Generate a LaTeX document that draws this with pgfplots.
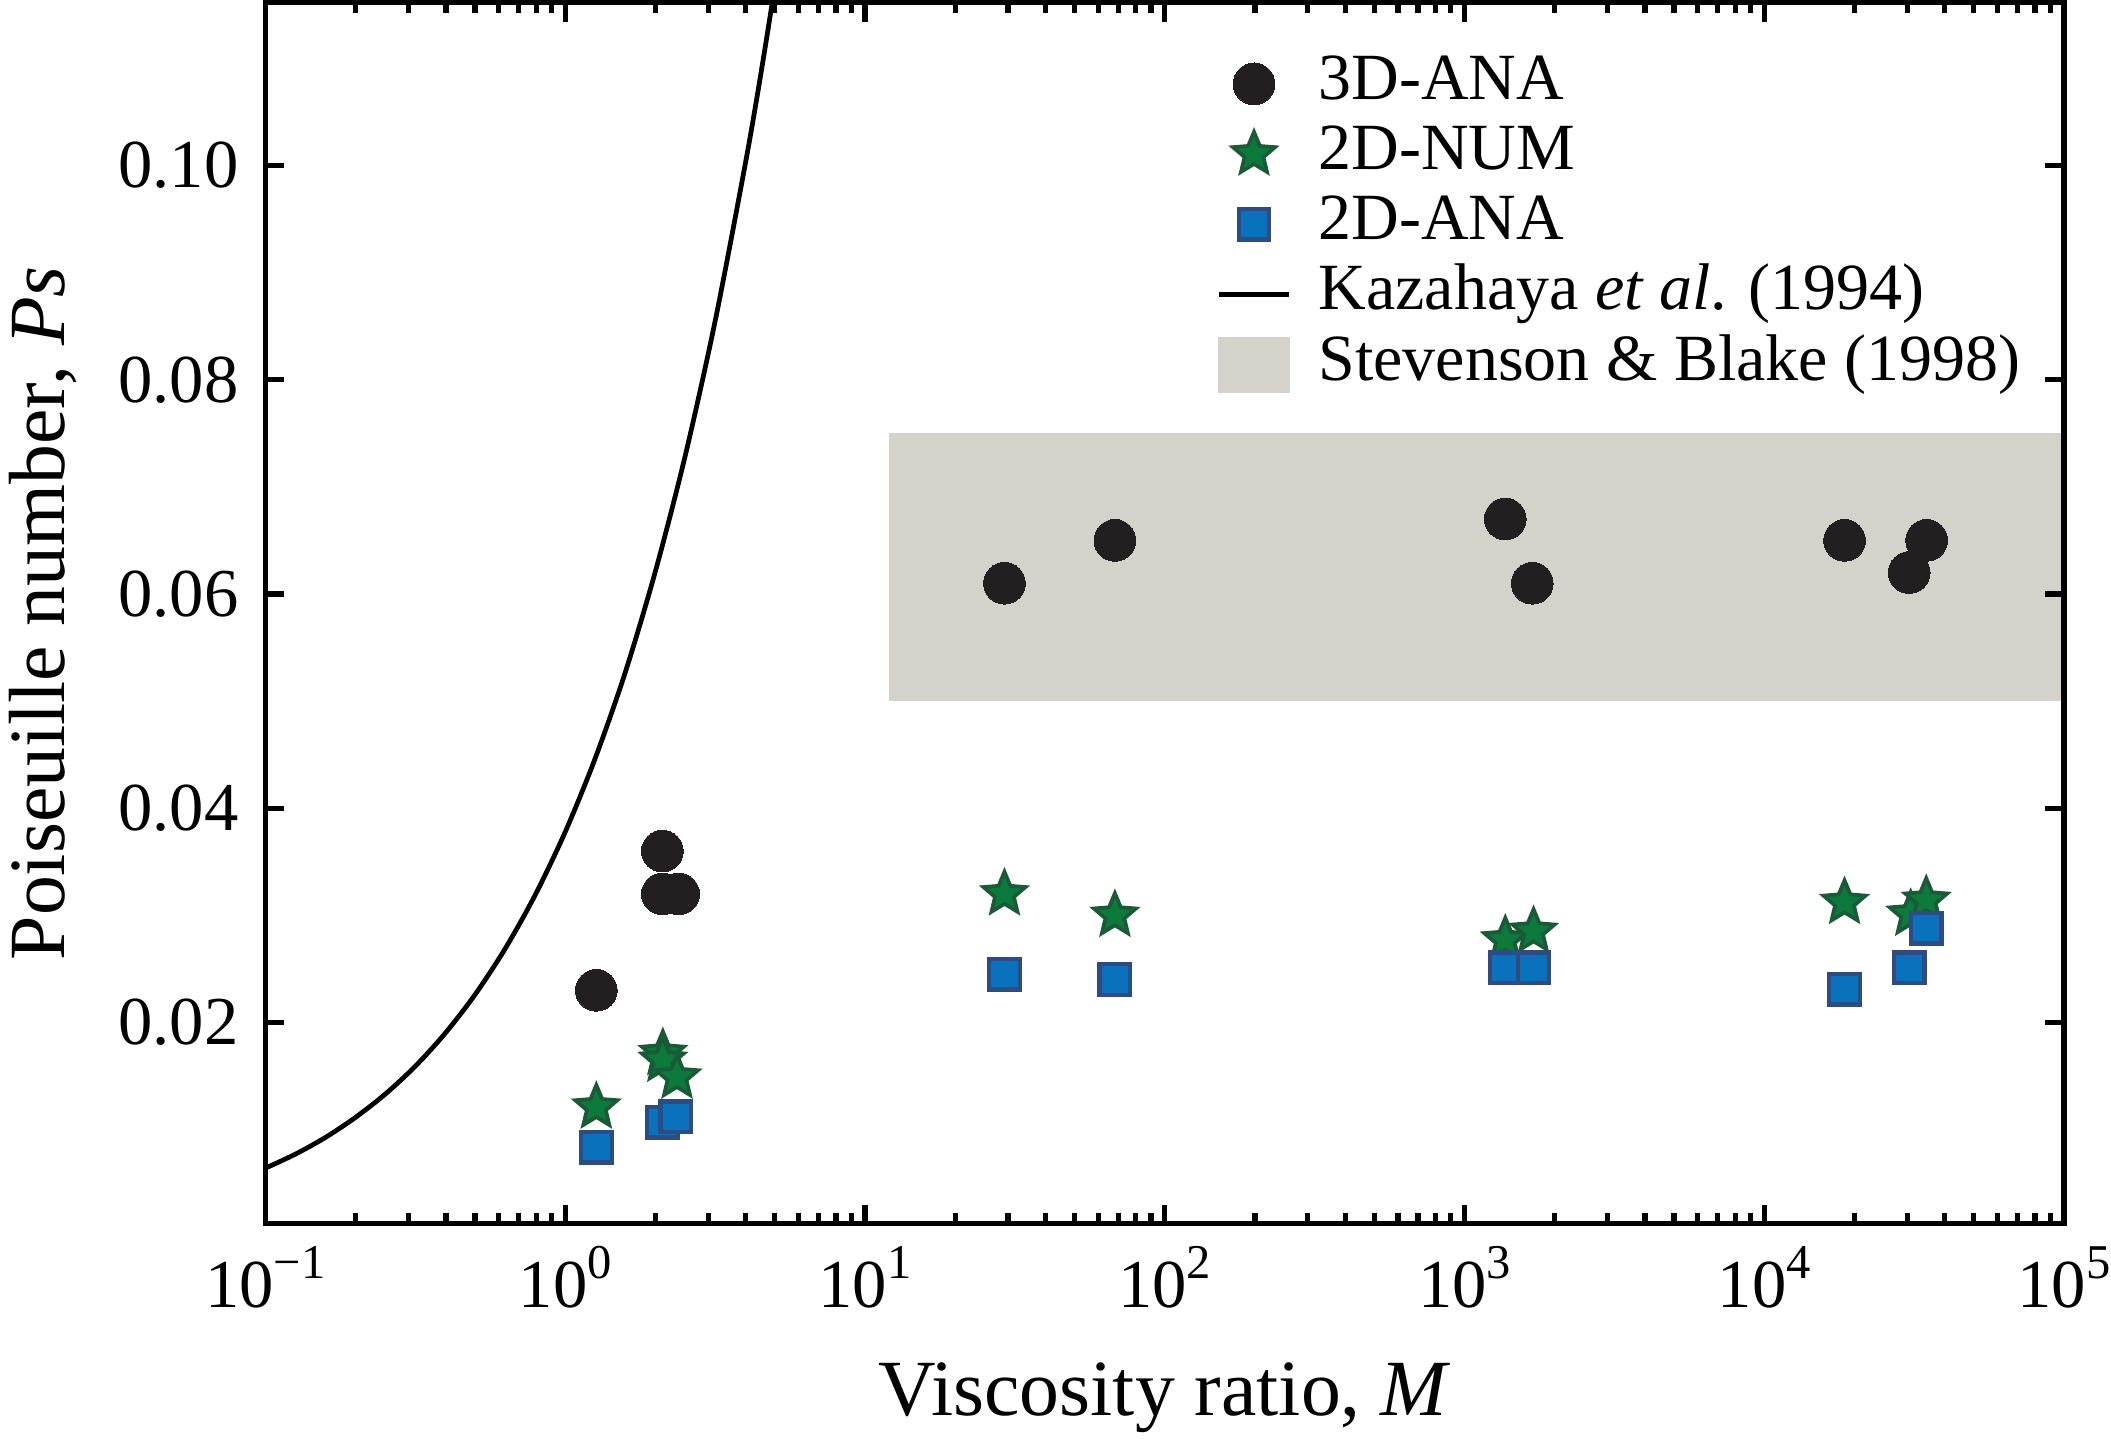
\documentclass[border=0pt]{standalone}
\usepackage{fontspec}
\setmainfont{Liberation Serif}
\usepackage{pgfplots}
\pgfplotsset{compat=1.18}
\definecolor{circ}{HTML}{231F20}
\definecolor{stfill}{HTML}{0B7A3C}
\definecolor{stedge}{HTML}{1B5A36}
\definecolor{sqfill}{HTML}{0A72BC}
\definecolor{sqedge}{HTML}{2F4C82}
\definecolor{band}{HTML}{D4D2CB}
\pgfdeclareplotmark{fstar}{%
  \pgfpathmoveto{\pgfpointpolar{90}{\pgfplotmarksize}}%
  \pgfpathlineto{\pgfpointpolar{126}{0.45\pgfplotmarksize}}%
  \pgfpathlineto{\pgfpointpolar{162}{\pgfplotmarksize}}%
  \pgfpathlineto{\pgfpointpolar{198}{0.45\pgfplotmarksize}}%
  \pgfpathlineto{\pgfpointpolar{234}{\pgfplotmarksize}}%
  \pgfpathlineto{\pgfpointpolar{270}{0.45\pgfplotmarksize}}%
  \pgfpathlineto{\pgfpointpolar{306}{\pgfplotmarksize}}%
  \pgfpathlineto{\pgfpointpolar{342}{0.45\pgfplotmarksize}}%
  \pgfpathlineto{\pgfpointpolar{18}{\pgfplotmarksize}}%
  \pgfpathlineto{\pgfpointpolar{54}{0.45\pgfplotmarksize}}%
  \pgfpathclose
  \pgfusepathqfillstroke}
\newcommand{\tp}[1]{10\raisebox{0.42em}{\fontsize{9.2}{10}\selectfont #1}}
\begin{document}
\begin{tikzpicture}
\begin{axis}[
  scale only axis, width=340.8pt, height=231.4pt,
  xmode=log, xmin=0.1, xmax=1e5, ymin=0.0012, ymax=0.1152,
  axis on top,
  axis line style={line width=1pt, black},
  tick style={line width=1pt, black},
  tick align=inside,
  major tick length=3.6pt, minor tick length=2pt,
  xtick={0.1,1,10,100,1000,10000,100000},
  xticklabels={\tp{−1},\tp{0},\tp{1},\tp{2},\tp{3},\tp{4},\tp{5}},
  minor xtick={0.2,0.3,0.4,0.5,0.6,0.7,0.8,0.9,2,3,4,5,6,7,8,9,20,30,40,50,60,70,80,90,200,300,400,500,600,700,800,900,2000,3000,4000,5000,6000,7000,8000,9000,20000,30000,40000,50000,60000,70000,80000,90000},
  ytick={0.02,0.04,0.06,0.08,0.10},
  yticklabels={0.02,0.04,0.06,0.08,0.10},
  ticklabel style={font=\fontsize{13}{15}\selectfont},
  yticklabel style={xshift=-1.6pt},
  xticklabel style={yshift=-0.8pt},
  label style={font=\fontsize{15.1}{18}\selectfont},
  xlabel={Viscosity ratio, \textit{M}},
  ylabel={Poiseuille number, \textit{Ps}},
  xlabel style={yshift=-3.5pt},
  ylabel style={yshift=1pt},
  legend cell align=left,
  legend style={at={(0.5193,0.967)}, anchor=north west, draw=none, fill=none,
    font=\fontsize{12.5}{14}\selectfont, row sep=2.2pt,
    nodes={inner sep=0pt, text height=8.5pt, text depth=2.6pt},
    /tikz/every odd column/.append style={column sep=5.1pt}},
  legend image code/.code={\draw[mark repeat=2,mark phase=2,#1] plot coordinates {(0cm,0cm) (0.235cm,0cm) (0.47cm,0cm)};},
]
\addplot[fill=band, draw=none, forget plot] coordinates {(12,0.05) (1e5,0.05) (1e5,0.075) (12,0.075)} -- cycle;
\addplot[black, line width=0.9pt, smooth, forget plot] coordinates {
(0.1000,0.00640) (0.1259,0.007706) (0.1585,0.009264) (0.1995,0.011123) (0.2512,0.013318)
(0.3162,0.015914) (0.3981,0.019000) (0.5012,0.02263) (0.6310,0.02690) (0.7943,0.03190)
(1.000,0.03778) (1.259,0.04465) (1.585,0.05265) (1.995,0.06201) (2.512,0.07286)
(3.162,0.08544) (3.981,0.10002) (4.467,0.1081) (5.012,0.11688) (5.623,0.1263)};
\addplot[only marks, mark=*, mark size=3.95pt, color=circ, mark options={fill=circ, draw=circ, line width=0pt}] coordinates {
(1.27,0.0230) (2.11,0.0360) (2.11,0.0320) (2.39,0.0320) (29.2,0.061) (68.2,0.065)
(1368,0.067) (1683,0.061) (18530,0.065) (30450,0.062) (34800,0.065)};
\addlegendentry{3D-ANA}
\addplot[only marks, mark=fstar, mark size=4.2pt, color=stedge, mark options={fill=stfill, draw=stedge, line width=0.7pt}] coordinates {
(1.27,0.0121) (2.117,0.0171) (2.117,0.01647) (2.36,0.0149) (29.2,0.032) (68.2,0.030)
(1368,0.0277) (1700,0.0285) (18530,0.0312) (30800,0.0301) (34700,0.0314)};
\addlegendentry{2D-NUM}
\addplot[only marks, mark=square*, mark size=2.9pt, color=sqedge, mark options={fill=sqfill, draw=sqedge, line width=0.8pt}] coordinates {
(1.27,0.00836) (2.11,0.01068) (2.34,0.0112) (29.2,0.0245) (68.2,0.0240)
(1368,0.0251) (1700,0.0251) (18530,0.0231) (30450,0.0251) (34700,0.0288)};
\addlegendentry{2D-ANA}
\addlegendimage{black, line width=0.9pt}
\addlegendentry{Kazahaya \textit{et al}. (1994)}
\addlegendimage{legend image code/.code={\fill[band] (0cm,-0.18cm) rectangle (0.47cm,0.18cm);}}
\addlegendentry{Stevenson \& Blake (1998)}
\end{axis}
\pgfresetboundingbox
\path ([xshift=-50.3pt,yshift=-40.6pt]current axis.south west) rectangle ([xshift=8.9pt,yshift=0.5pt]current axis.north east);
\end{tikzpicture}
\end{document}
